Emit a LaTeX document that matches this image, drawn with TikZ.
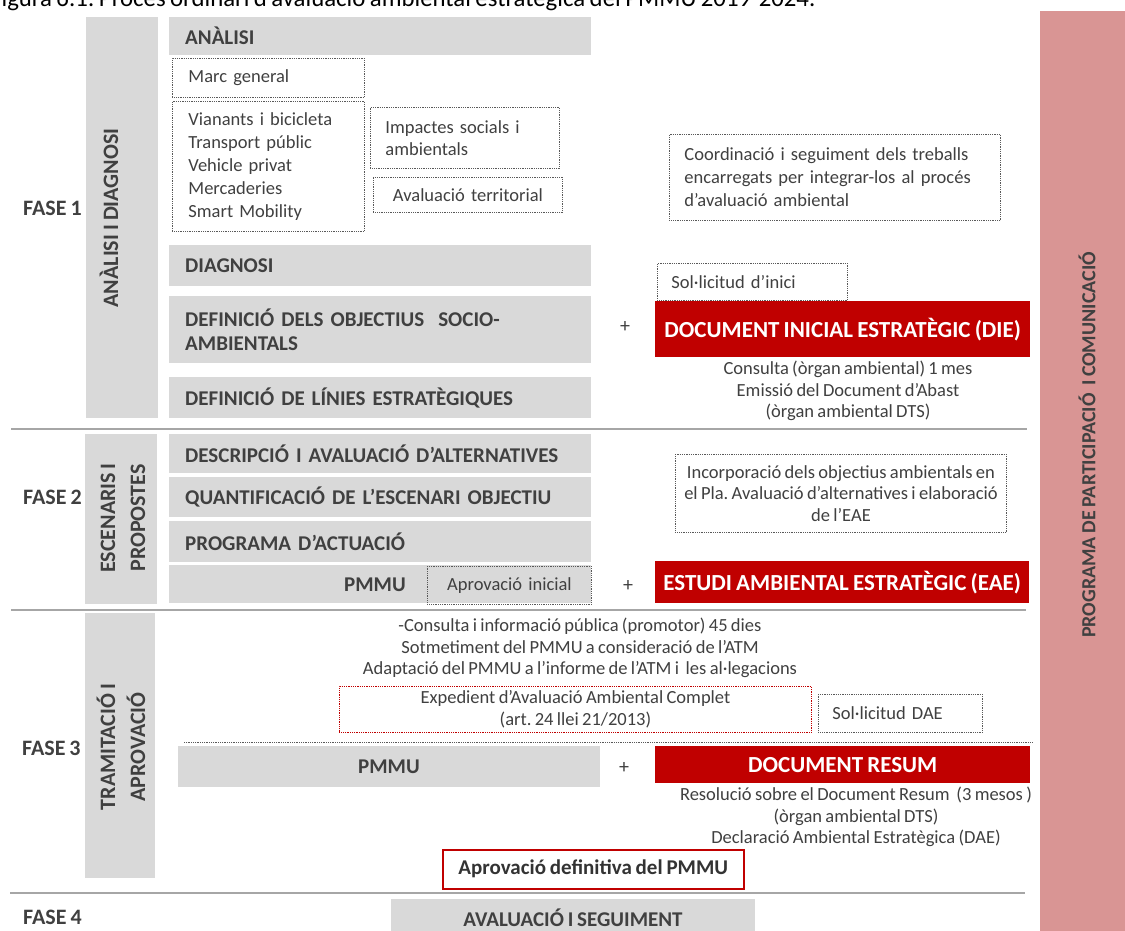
\documentclass[tikz,border=0pt]{standalone}
\usepackage{fontspec}
\setmainfont{Carlito}[WordSpace=0.8]
\frenchspacing
\definecolor{greyfill}{HTML}{D9D9D9}
\definecolor{txt}{HTML}{404040}
\definecolor{redc}{HTML}{C00000}
\definecolor{pinkc}{HTML}{D99594}
\definecolor{sepc}{HTML}{A6A6A6}
\definecolor{dotc}{HTML}{595959}
\tikzset{
  gbox/.style={fill=greyfill, draw=none, inner sep=0pt, anchor=north west, text=txt,
    font=\bfseries\fontsize{21}{24}\selectfont},
  gbar/.style={fill=greyfill, draw=none, inner sep=0pt, anchor=north west},
  dbox/.style={draw=dotc, dash pattern=on 0.9pt off 0.9pt, line width=0.9pt, inner sep=0pt,
    anchor=north west, text=txt, font=\fontsize{18.5}{23}\selectfont},
  rdbox/.style={dbox, draw=redc},
  rbox/.style={fill=redc, draw=none, inner sep=0pt, anchor=north west, text=white,
    font=\bfseries\fontsize{23}{27}\selectfont},
  bartxt/.style={rotate=90, text=txt, align=center, inner sep=0pt,
    font=\bfseries\fontsize{22}{30}\selectfont},
  fasetxt/.style={anchor=west, text=txt, inner sep=0pt, font=\bfseries\fontsize{22}{26}\selectfont},
  ftxt/.style={text=txt, inner sep=0pt, align=center, font=\fontsize{18.5}{21.5}\selectfont},
  plus/.style={text=txt, inner sep=0pt, font=\fontsize{20}{24}\selectfont},
  sepline/.style={draw=sepc, line width=2pt},
  dotline/.style={draw=dotc, dash pattern=on 0.9pt off 0.9pt, line width=0.9pt},
}
\begin{document}
\begin{tikzpicture}[x=1pt,y=-1pt]
\path[use as bounding box, clip] (0,0) rectangle (1125,931);
\fill[white] (0,0) rectangle (1125,931);

% title (cut at top, as in the reference)
\node[anchor=base west, inner sep=0pt, font=\fontsize{24.8}{28}\selectfont] (title) at (-10,7)
  {Figura 6.1: Procés ordinari d’avaluació ambiental estratègica del PMMU 2019-2024.};

% pink side bar
\node[fill=pinkc, inner sep=0pt, anchor=north west, minimum width=85, minimum height=930] (pink) at (1040,11) {};
\node[rotate=90, text=txt, inner sep=0pt, font=\bfseries\fontsize{20}{24}\selectfont] (pinkt) at (1087,445)
  {PROGRAMA DE PARTICIPACIÓ\ \ I COMUNICACIÓ};

% ---------------- FASE 1 ----------------
\node[fasetxt] (f1) at (23,208) {FASE 1};
\node[gbar, minimum width=72, minimum height=401] (bar1) at (86,17) {};
\node[bartxt] (bar1t) at (109,218) {ANÀLISI I DIAGNOSI};

\node[gbox, minimum width=422, minimum height=38, text width=390, inner xsep=16, align=left] (ana) at (169,17) {ANÀLISI};
\node[dbox, minimum width=192, minimum height=39, text width=160, inner xsep=16, align=left] (marc) at (172,58) {Marc general};
\node[dbox, minimum width=192, minimum height=130, text width=160, inner xsep=16, align=left] (list) at (172,101)
  {Vianants i bicicleta\\Transport públic\\Vehicle privat\\Mercaderies\\Smart Mobility};
\node[dbox, minimum width=189, minimum height=61, text width=159, inner xsep=15, align=left, font=\fontsize{18.5}{21.5}\selectfont] (imp) at (370,107)
  {Impactes socials i\\ambientals};
\node[dbox, minimum width=189, minimum height=35, text width=175, inner xsep=7, align=center] (terr) at (373,177) {Avaluació territorial};
\node[dbox, minimum width=331, minimum height=86, text width=301, inner xsep=15, align=left] (coord) at (669,134)
  {Coordinació i seguiment dels treballs\\encarregats per integrar-los al procés\\d’avaluació ambiental};

\node[gbox, minimum width=422, minimum height=41, text width=390, inner xsep=16, align=left] (diag) at (169,245) {DIAGNOSI};
\node[gbox, minimum width=422, minimum height=67, text width=390, inner xsep=16, align=left] (defobj) at (169,296)
  {DEFINICIÓ DELS OBJECTIUS\ \ SOCIO-\\AMBIENTALS};
\node[gbox, minimum width=422, minimum height=41, text width=390, inner xsep=16, align=left] (deflin) at (169,377)
  {DEFINICIÓ DE LÍNIES ESTRATÈGIQUES};

\node[dbox, minimum width=190, minimum height=37, text width=162, inner xsep=14, align=left] (solini) at (657,263) {Sol·licitud d’inici};
\node[plus] (plus1) at (625,327) {+};
\node[rbox, minimum width=375, minimum height=56] (die) at (655,301) {DOCUMENT INICIAL ESTRATÈGIC (DIE)};
\node[ftxt, align=center] (cons1) at (848,391)
  {Consulta (òrgan ambiental) 1 mes\\Emissió del Document d’Abast\\(òrgan ambiental DTS)};

\coordinate (s1a) at (11,429);
\coordinate (s1b) at (1027,429);
\draw[sepline] (s1a) -- (s1b);

% ---------------- FASE 2 ----------------
\node[fasetxt] (f2) at (23,497) {FASE 2};
\node[gbar, minimum width=72, minimum height=170] (bar2) at (85,434) {};
\node[bartxt] (bar2t) at (123,518) {ESCENARIS I\\PROPOSTES};

\node[gbox, minimum width=422, minimum height=39, text width=390, inner xsep=16, align=left] (desc) at (169,434)
  {DESCRIPCIÓ I AVALUACIÓ D’ALTERNATIVES};
\node[gbox, minimum width=422, minimum height=40, text width=390, inner xsep=16, align=left] (quant) at (169,477)
  {QUANTIFICACIÓ DE L’ESCENARI OBJECTIU};
\node[gbox, minimum width=422, minimum height=41, text width=390, inner xsep=16, align=left] (prog) at (169,521)
  {PROGRAMA D’ACTUACIÓ};
\node[gbox, minimum width=422, minimum height=38] (pmmu2) at (169,565) {};
\node[text=txt, inner sep=0pt, font=\bfseries\fontsize{21}{24}\selectfont] (pmmu2t) at (375,585) {PMMU};
\node[dbox, minimum width=164, minimum height=38, text width=150, inner xsep=7, align=center] (aprini) at (427,566) {Aprovació inicial};

\node[dbox, minimum width=331, minimum height=78, align=center, font=\fontsize{18.5}{21.5}\selectfont] (incorp) at (675,454)
  {Incorporació dels objectius ambientals en\\el Pla. Avaluació d’alternatives i elaboració\\de l’EAE};
\node[plus] (plus2) at (628,586) {+};
\node[rbox, minimum width=374, minimum height=42] (eae) at (655,561) {ESTUDI AMBIENTAL ESTRATÈGIC (EAE)};

\coordinate (s2a) at (11,610);
\coordinate (s2b) at (1026,610);
\draw[sepline] (s2a) -- (s2b);

% ---------------- FASE 3 ----------------
\node[fasetxt] (f3) at (22,748) {FASE 3};
\node[gbar, minimum width=70, minimum height=265] (bar3) at (85,613) {};
\node[bartxt] (bar3t) at (121,747) {TRAMITACIÓ I\\APROVACIÓ};

\node[ftxt] (cons3) at (580,648)
  {-Consulta i informació pública (promotor) 45 dies\\Sotmetiment del PMMU a consideració de l’ATM\\Adaptació del PMMU a l’informe de l’ATM i\ \ les al·legacions};
\node[rdbox, minimum width=472, minimum height=46, align=center, font=\fontsize{18.5}{22}\selectfont] (exped) at (339,686)
  {Expedient d’Avaluació Ambiental Complet\\(art. 24 llei 21/2013)};
\node[dbox, minimum width=164, minimum height=38, text width=136, inner xsep=14, align=left] (soldae) at (818,694) {Sol·licitud DAE};

\coordinate (d3a) at (184,742);
\coordinate (d3b) at (1032,742);
\draw[dotline] (d3a) -- (d3b);

\node[gbox, minimum width=422, minimum height=41] (pmmu3) at (178,746) {};
\node[text=txt, inner sep=0pt, font=\bfseries\fontsize{21}{24}\selectfont] (pmmu3t) at (389,767) {PMMU};
\node[plus] (plus3) at (624,768) {+};
\node[rbox, minimum width=375, minimum height=37] (resum) at (655,746) {DOCUMENT RESUM};

\node[ftxt] (resol) at (856,817)
  {Resolució sobre el Document Resum\ \ (3 mesos )\\(òrgan ambiental DTS)\\Declaració Ambiental Estratègica (DAE)};

\node[draw=redc, line width=1.5pt, fill=white, inner sep=0pt, anchor=north west, minimum width=301, minimum height=39,
  text=black!80, font=\bfseries\fontsize{21}{25}\selectfont] (aprdef) at (442,849) {Aprovació definitiva del PMMU};

\coordinate (s3a) at (10,893);
\coordinate (s3b) at (1025,893);
\draw[sepline] (s3a) -- (s3b);

% ---------------- FASE 4 ----------------
\node[fasetxt] (f4) at (23,917) {FASE 4};
\node[gbox, minimum width=364, minimum height=45] (aval) at (391,899) {};
\node[text=txt, inner sep=0pt, font=\bfseries\fontsize{21}{24}\selectfont] (avalt) at (573,918) {AVALUACIÓ I SEGUIMENT};
\end{tikzpicture}
\end{document}
